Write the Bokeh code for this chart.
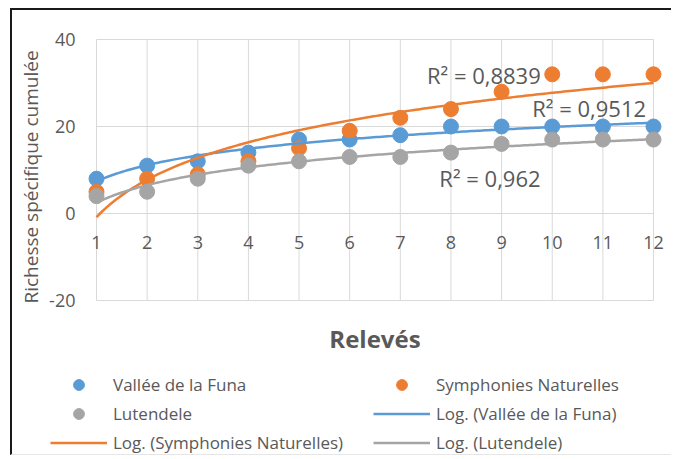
import numpy as np
from bokeh.plotting import figure
from bokeh.models import Legend, LegendItem, ColumnDataSource, LabelSet, Range1d
from bokeh.core.properties import value
from bokeh.embed import file_html
from bokeh.resources import INLINE

# ---- data ----
releves = [1, 2, 3, 4, 5, 6, 7, 8, 9, 10, 11, 12]
vallee_funa = [8, 11, 12, 14, 17, 17, 18, 20, 20, 20, 20, 20]
symphonies = [5, 8, 9, 12, 15, 19, 22, 24, 28, 32, 32, 32]
lutendele = [4, 5, 8, 11, 12, 13, 13, 14, 16, 17, 17, 17]
y_ticks = [-20, 0, 20, 40]
y_tick_labels = ["-20", "0", "20", "40"]
x_title = "Relevés"
y_title = "Richesse spécifique cumulée"
r2_texts = ["R² = 0,8839", "R² = 0,9512", "R² = 0,962"]
r2_x = [8.65, 10.73, 8.77]
r2_y = [31.9, 24.3, 8.2]

BLUE = "#5B9BD5"
ORANGE = "#ED7D31"
GRAY = "#A5A5A5"
TXT = "#595959"
GRID = "#D9D9D9"
FONT = "Open Sans"

# ---- layout geometry (pixels) ----
W, H = 661, 447
PA_L, PA_R, PA_T, PA_B = 84, 641, 29, 290      # plot area inside the canvas
x0, x1 = releves[0], releves[-1]
y0, y1 = y_ticks[0], y_ticks[-1]
sx = (PA_R - PA_L) / (x1 - x0)
sy = (PA_B - PA_T) / (y1 - y0)
xr = Range1d(x0 - PA_L / sx, x1 + (W - PA_R) / sx)
yr = Range1d(y0 - (H - PA_B) / sy, y1 + PA_T / sy)

p = figure(width=W, height=H, x_range=xr, y_range=yr, x_axis_type=None, y_axis_type=None,
           output_backend="svg", toolbar_location=None, min_border=0)
p.styles = {"border-left": "2px solid #1a1a1a", "border-top": "2px solid #1a1a1a",
            "border-bottom": "1px solid #e6e6e6",
            "margin-left": "10px", "margin-top": "8px"}
p.outline_line_color = None
p.grid.visible = False
p.background_fill_color = "white"

# grid lines of the plot area
p.segment(x0=releves, x1=releves, y0=[y0] * len(releves), y1=[y1] * len(releves),
          line_color=GRID, line_width=1)
p.segment(x0=[x0] * len(y_ticks), x1=[x1] * len(y_ticks), y0=y_ticks, y1=y_ticks,
          line_color=GRID, line_width=1)

def labels(src, **kw):
    opts = dict(text_font=value(FONT), text_color=TXT, text_baseline="middle")
    opts.update(kw)
    p.add_layout(LabelSet(x="x", y="y", text="t", source=ColumnDataSource(src), **opts))

# x tick labels under the zero line
labels(dict(x=releves, y=[0] * len(releves), t=[str(v) for v in releves]),
       y_offset=-29, text_align="center", text_font_size="18px")
# y tick labels
labels(dict(x=[x0] * len(y_ticks), y=y_ticks, t=y_tick_labels),
       x_offset=-21, text_align="right", text_font_size="18px")
# y axis title
labels(dict(x=[x0], y=[(y0 + y1) / 2], t=[y_title]), angle=np.pi / 2,
       x_offset=-66, y_offset=-7, text_align="center", text_font_size="19px")
# x axis title
labels(dict(x=[(x0 + x1) / 2], y=[y0], t=[x_title]), y_offset=-38,
       text_align="center", text_font_size="24px", text_font_style="bold")

# series and logarithmic trendlines
xs = np.array(releves, dtype=float)
series = [("Vallée de la Funa", vallee_funa, BLUE),
          ("Symphonies Naturelles", symphonies, ORANGE),
          ("Lutendele", lutendele, GRAY)]
xf = np.linspace(x0, x1, 200)
dots, lines = {}, {}
for name, ys, col in series:
    dots[name] = p.scatter(releves, ys, size=15, color=col, line_color=col)
for name, ys, col in series:
    a, b = np.polyfit(np.log(xs), np.array(ys, dtype=float), 1)
    lines[name] = p.line(xf, a * np.log(xf) + b, line_color=col, line_width=2.5)

# R² annotations
labels(dict(x=r2_x, y=r2_y, t=r2_texts), text_align="center", text_font_size="22px")

items = [
    LegendItem(label="Vallée de la Funa", renderers=[dots["Vallée de la Funa"]]),
    LegendItem(label="Symphonies Naturelles", renderers=[dots["Symphonies Naturelles"]]),
    LegendItem(label="Lutendele", renderers=[dots["Lutendele"]]),
    LegendItem(label="Log. (Vallée de la Funa)", renderers=[lines["Vallée de la Funa"]]),
    LegendItem(label="Log. (Symphonies Naturelles)", renderers=[lines["Symphonies Naturelles"]]),
    LegendItem(label="Log. (Lutendele)", renderers=[lines["Lutendele"]]),
]
legend = Legend(items=items, orientation="horizontal", ncols=2, location=(38, 1),
                border_line_color=None, background_fill_alpha=0, padding=0, margin=0,
                glyph_width=57, glyph_height=27, label_height=27, spacing=2,
                label_standoff=6, label_width=258,
                label_text_font=FONT, label_text_font_size="17px", label_text_color=TXT)
p.add_layout(legend)

open("out.html", "w").write(file_html(p, INLINE))
